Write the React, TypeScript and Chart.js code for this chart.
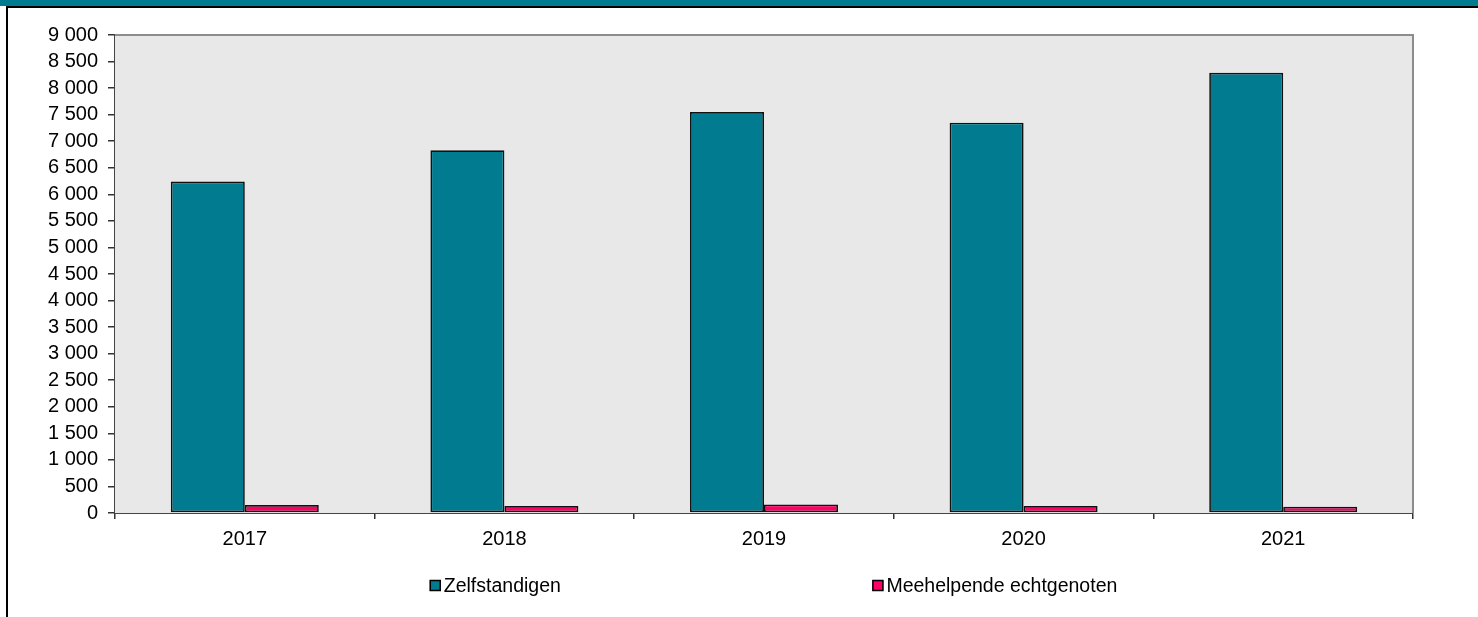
import React, { useEffect, useRef } from "react";
import { Chart, registerables } from "chart.js";

Chart.register(...registerables);

const categories = ["2017", "2018", "2019", "2020", "2021"];
const zelfstandigen = [6240, 6830, 7550, 7350, 8290];
const meehelpende = [150, 130, 158, 132, 118];
const seriesLabels = ["Zelfstandigen", "Meehelpende echtgenoten"];
const yMax = 9000;
const yStep = 500;

const TEAL = "#007b8f";
const PINK = "#ff0066";
const FONT = "'Liberation Sans', Arial, sans-serif";

const fmt = (v: number) => String(v).replace(/\B(?=(\d{3})+(?!\d))/g, " ");

const plotBg = {
  id: "plotBg",
  beforeDatasetsDraw(chart: any) {
    const { ctx, chartArea: a } = chart;
    ctx.save();
    ctx.fillStyle = "#e8e8e8";
    ctx.fillRect(a.left, a.top, a.right - a.left, a.bottom - a.top);
    ctx.strokeStyle = "#8c8c8c";
    ctx.lineWidth = 2;
    ctx.beginPath();
    ctx.moveTo(a.left, a.top);
    ctx.lineTo(a.right, a.top);
    ctx.lineTo(a.right, a.bottom);
    ctx.stroke();
    ctx.restore();
  },
};

const customLegend = {
  id: "customLegend",
  afterDraw(chart: any) {
    const { ctx, chartArea: a } = chart;
    const w = a.right - a.left;
    const fracs = [0.2425, 0.5835];
    const y = a.bottom + 67;
    ctx.save();
    chart.data.datasets.forEach((ds: any, i: number) => {
      const x = a.left + w * fracs[i];
      ctx.fillStyle = ds.backgroundColor;
      ctx.fillRect(x, y, 11, 11);
      ctx.strokeStyle = "#000";
      ctx.lineWidth = 1.5;
      ctx.strokeRect(x + 0.5, y + 0.5, 10, 10);
      ctx.fillStyle = "#000";
      ctx.font = `19.5px ${FONT}`;
      ctx.textBaseline = "middle";
      ctx.textAlign = "left";
      ctx.fillText(ds.label, x + 14, y + 7);
    });
    ctx.restore();
  },
};

export default function App() {
  const ref = useRef<HTMLCanvasElement | null>(null);

  useEffect(() => {
    if (!ref.current) return;
    const chart = new Chart(ref.current, {
      type: "bar",
      data: {
        labels: categories,
        datasets: [
          {
            label: seriesLabels[0],
            data: zelfstandigen,
            backgroundColor: TEAL,
            borderColor: "#111",
            borderWidth: 1.7,
            borderSkipped: false,
            categoryPercentage: 0.57,
            barPercentage: 1,
          },
          {
            label: seriesLabels[1],
            data: meehelpende,
            backgroundColor: PINK,
            borderColor: "#111",
            borderWidth: 1.7,
            borderSkipped: false,
            categoryPercentage: 0.57,
            barPercentage: 1,
          },
        ],
      },
      options: {
        animation: false,
        responsive: false,
        layout: { padding: { left: 0, right: 65, top: 27, bottom: 0 } },
        plugins: {
          legend: { display: false },
          tooltip: { enabled: false },
          title: { display: false },
        },
        scales: {
          x: {
            offset: true,
            grid: {
              offset: true,
              drawOnChartArea: false,
              drawTicks: true,
              tickLength: 6,
              color: "#333",
              lineWidth: 1.5,
            },
            border: { display: true, color: "#444", width: 2 },
            ticks: {
              color: "#000",
              font: { family: FONT, size: 20 },
              padding: 8,
            },
            afterFit: (s: any) => {
              s.height = 104;
            },
          },
          y: {
            min: 0,
            max: yMax,
            grid: {
              drawOnChartArea: false,
              drawTicks: true,
              tickLength: 7,
              color: "#333",
              lineWidth: 1.5,
            },
            border: { display: true, color: "#444", width: 2 },
            ticks: {
              stepSize: yStep,
              autoSkip: false,
              color: "#000",
              font: { family: FONT, size: 20 },
              padding: 10,
              callback: (v: any) => fmt(Number(v)),
            },
            afterFit: (s: any) => {
              s.width = 107;
            },
          },
        },
      },
      plugins: [plotBg, customLegend],
    });
    return () => chart.destroy();
  }, []);

  return (
    <div
      style={{
        position: "fixed",
        left: 0,
        top: 0,
        width: 1478,
        height: 617,
        background: "#fff",
        overflow: "hidden",
      }}
    >
      <div style={{ position: "absolute", left: 0, top: 0, width: 1478, height: 6, background: TEAL }} />
      <div
        style={{
          position: "absolute",
          left: 6,
          top: 6,
          width: 1480,
          height: 620,
          borderTop: "2px solid #000",
          borderLeft: "2px solid #000",
        }}
      />
      <canvas
        ref={ref}
        width={1470}
        height={609}
        style={{ position: "absolute", left: 8, top: 8, width: 1470, height: 609 }}
      />
    </div>
  );
}
